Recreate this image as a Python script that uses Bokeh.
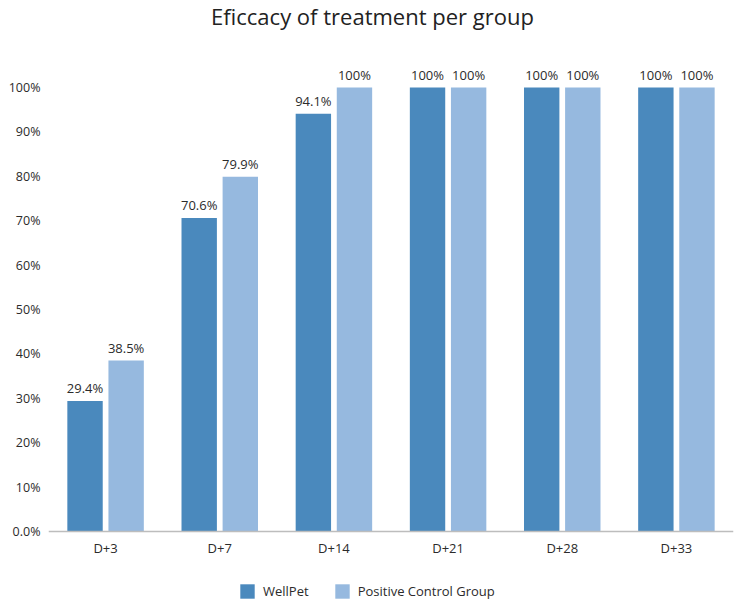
from bokeh.plotting import figure
from bokeh.models import (ColumnDataSource, FactorRange, Range1d, FixedTicker,
                          LabelSet, Label, Legend, LegendItem, Span)
from bokeh.core.properties import value
from bokeh.transform import dodge
from bokeh.embed import file_html
from bokeh.resources import INLINE

# Efficacy data (percent) per assessment day
days = ["D+3", "D+7", "D+14", "D+21", "D+28", "D+33"]
wellpet = [29.4, 70.6, 94.1, 100, 100, 100]
positive_control = [38.5, 79.9, 100, 100, 100, 100]
wellpet_labels = ["29.4%", "70.6%", "94.1%", "100%", "100%", "100%"]
control_labels = ["38.5%", "79.9%", "100%", "100%", "100%", "100%"]
y_ticks = [0, 10, 20, 30, 40, 50, 60, 70, 80, 90, 100]
y_tick_labels = ["0.0%", "10%", "20%", "30%", "40%", "50%", "60%", "70%", "80%", "90%", "100%"]
series_names = ["WellPet", "Positive Control Group"]
title_text = "Eficcacy of treatment per group"

DARK = "#4a89bd"
LIGHT = "#96b9df"
FONT = "Open Sans"
TEXT = "#2b2b2b"

W, H = 749, 602
LEFT, RIGHT = 48, 16
# vertical scale: 4.44 px per percentage point, baseline 71 px above the bottom
PX = 4.44
Y0 = -71 / PX
Y1 = (H - 71) / PX

src = ColumnDataSource(dict(
    day=days, wellpet=wellpet, control=positive_control,
    wl=wellpet_labels, cl=control_labels, zero=[0] * len(days),
))

p = figure(
    x_range=FactorRange(*days, range_padding=0),
    y_range=Range1d(Y0, Y1),
    width=W, height=H,
    output_backend="svg", toolbar_location=None,
    min_border_left=LEFT, min_border_right=RIGHT,
    min_border_top=0, min_border_bottom=0,
)
p.xaxis.visible = False
p.xgrid.grid_line_color = None
p.ygrid.grid_line_color = None
p.outline_line_color = None

bw = 0.31
r1 = p.vbar(x=dodge("day", -0.18, range=p.x_range), top="wellpet", width=bw,
            source=src, color=DARK, line_color=None)
r2 = p.vbar(x=dodge("day", 0.18, range=p.x_range), top="control", width=bw,
            source=src, color=LIGHT, line_color=None)

# value labels above the bars
for col, lab, off in (("wellpet", "wl", -0.18), ("control", "cl", 0.18)):
    p.add_layout(LabelSet(
        x=dodge("day", off, range=p.x_range), y=col, text=lab, source=src,
        text_align="center", text_baseline="bottom", y_offset=4,
        text_font=value(FONT), text_font_size="13px", text_color=TEXT,
    ))

# baseline and category labels
p.add_layout(Span(location=0, dimension="width", line_color="#bdbdbd", line_width=1.5))
p.add_layout(LabelSet(
    x="day", y="zero", text="day", source=src,
    text_align="center", text_baseline="top", y_offset=-7,
    text_font=value(FONT), text_font_size="13px", text_color=TEXT,
))

# y axis
p.yaxis.ticker = FixedTicker(ticks=y_ticks)
p.yaxis.major_label_overrides = {t: s for t, s in zip(y_ticks, y_tick_labels)}
p.yaxis.axis_line_color = None
p.yaxis.major_tick_line_color = None
p.yaxis.minor_tick_line_color = None
p.yaxis.major_tick_out = 0
p.yaxis.major_label_standoff = 8
p.yaxis.major_label_text_font = FONT
p.yaxis.major_label_text_font_size = "12.5px"
p.yaxis.major_label_text_color = TEXT

# title
p.add_layout(Label(
    x=372 - LEFT, y=H, x_units="screen", y_units="screen",
    text=title_text, text_align="center", text_baseline="top",
    text_font=FONT, text_font_size="22px", text_color="#222222",
))

legend = Legend(
    items=[LegendItem(label=series_names[0], renderers=[r1]),
           LegendItem(label=series_names[1], renderers=[r2])],
    orientation="horizontal", location=(190, 2),
    glyph_width=18, glyph_height=18, label_standoff=7, spacing=24,
    padding=0, margin=0, border_line_alpha=0, background_fill_alpha=0,
    label_text_font=FONT, label_text_font_size="13px", label_text_color=TEXT,
)
p.add_layout(legend, "center")

open("out.html", "w").write(file_html(p, INLINE))
